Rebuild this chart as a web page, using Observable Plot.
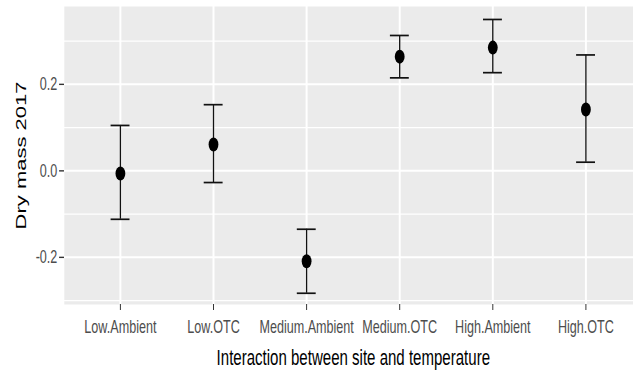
<!DOCTYPE html>
<html>
<head>
<meta charset="utf-8">
<script src="https://cdn.jsdelivr.net/npm/d3@7"></script>
<script src="https://cdn.jsdelivr.net/npm/@observablehq/plot@0.6"></script>
<style>
  html, body { margin: 0; padding: 0; background: #ffffff; }
  #wrap { width: 633px; height: 370px; overflow: hidden; position: relative; }
  #wrap svg {
    max-width: none !important; width: 925px !important; height: 370px !important;
    transform: scaleX(0.7); transform-origin: 0 0; display: block;
  }
</style>
</head>
<body>
<div id="wrap"></div>
<script>
// Group means of 2017 dry mass with their error-bar limits
const categories = ["Low.Ambient", "Low.OTC", "Medium.Ambient", "Medium.OTC", "High.Ambient", "High.OTC"];
const means = [-0.006, 0.061, -0.209, 0.264, 0.285, 0.142];
const lower = [-0.112, -0.027, -0.283, 0.215, 0.227, 0.020];
const upper = [0.105, 0.153, -0.135, 0.313, 0.350, 0.268];

const yMajorTicks = [-0.2, 0.0, 0.2];
const yMinorTicks = [-0.3, -0.1, 0.1, 0.3];

const xTitle = "Interaction between site and temperature";
const yTitle = "Dry mass 2017";

const rows = categories.map((c, i) => ({group: c, mean: means[i], lo: lower[i], hi: upper[i]}));

const font = "'Liberation Sans', Arial, sans-serif";
const textGrey = "#4D4D4D";
const tickGrey = "#333333";

const chart = Plot.plot({
  width: 925,
  height: 370,
  marginLeft: 91.4,
  marginRight: 8,
  marginTop: 6,
  marginBottom: 66,
  style: {fontFamily: font, background: "transparent", overflow: "visible", maxWidth: "none"},
  x: {type: "band", domain: categories, paddingInner: 0.8, paddingOuter: 0.5},
  y: {domain: [-0.309, 0.380]},
  marks: [
    Plot.frame({fill: "#EBEBEB", stroke: "none"}),
    // panel grid
    Plot.ruleY(yMinorTicks, {stroke: "#ffffff", strokeWidth: 1.2}),
    Plot.ruleY(yMajorTicks, {stroke: "#ffffff", strokeWidth: 2}),
    Plot.ruleX(categories, {x: d => d, stroke: "#ffffff", strokeWidth: 2.8}),
    // axes
    Plot.axisY(yMajorTicks, {
      tickSize: 7, tickPadding: 3, fontSize: 18,
      tickFormat: d => d.toFixed(1),
      stroke: tickGrey, strokeWidth: 1.4, fill: textGrey, label: null
    }),
    Plot.axisX(categories, {
      tickSize: 6, tickPadding: 10, fontSize: 18,
      stroke: tickGrey, strokeWidth: 1.4, fill: textGrey, label: null
    }),
    // error bars
    Plot.ruleX(rows, {x: "group", y1: "lo", y2: "hi", stroke: "#111111", strokeWidth: 1.9}),
    Plot.tickY(rows, {x: "group", y: "lo", stroke: "#111111", strokeWidth: 1.7}),
    Plot.tickY(rows, {x: "group", y: "hi", stroke: "#111111", strokeWidth: 1.7}),
    // means
    Plot.dot(rows, {x: "group", y: "mean", r: 7, fill: "#000000", stroke: "none"}),
    // axis titles
    Plot.text([xTitle], {
      frameAnchor: "bottom", dy: 53.5, lineAnchor: "middle", textAnchor: "middle",
      fontSize: 21.5, fill: "#000000", text: d => d
    }),
    Plot.text([yTitle], {
      frameAnchor: "left", dx: -61.6, rotate: -90, lineAnchor: "middle", textAnchor: "middle",
      fontSize: 22, fill: "#000000", text: d => d
    })
  ]
});

document.getElementById("wrap").appendChild(chart);
</script>
</body>
</html>
